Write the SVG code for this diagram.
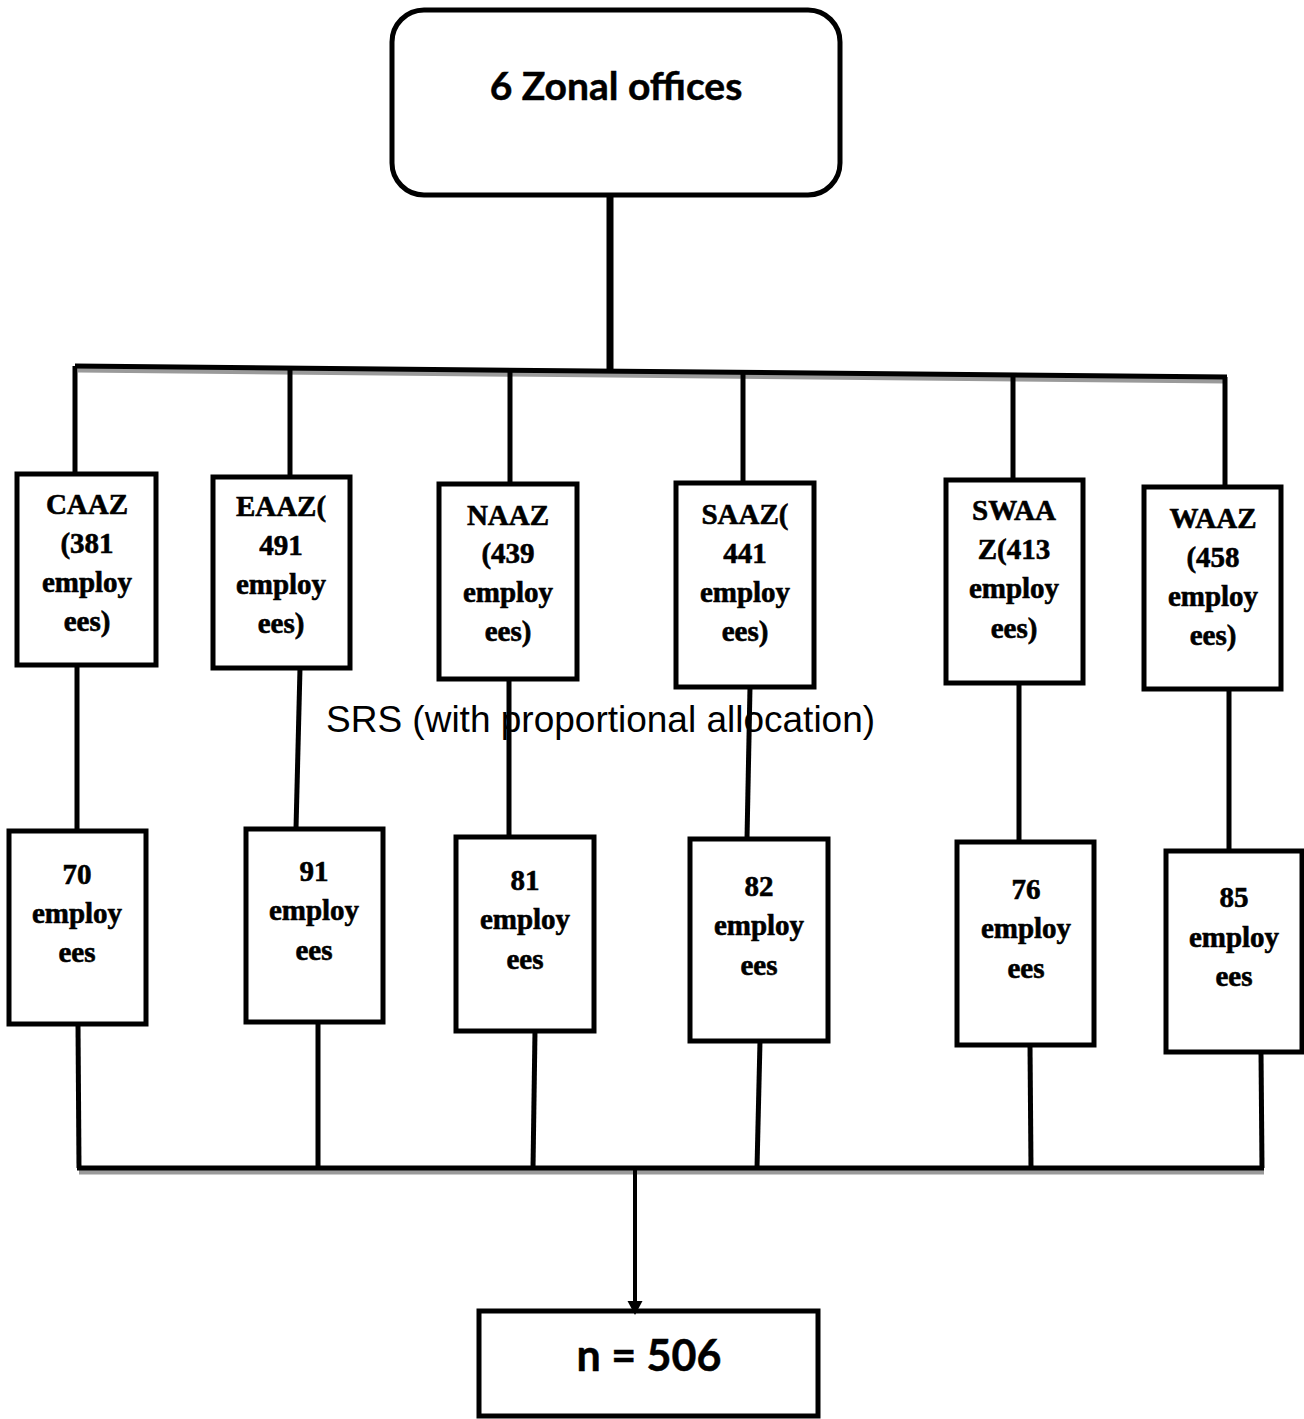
<svg xmlns="http://www.w3.org/2000/svg" width="1304" height="1419" viewBox="0 0 1304 1419">
<style>
.box{fill:#fff;stroke:#000;stroke-width:5}
.ln{stroke:#000;stroke-width:5;fill:none}
.sh{stroke:#9a9a9a;stroke-width:5;fill:none}
.t{font-family:"Liberation Serif","Times New Roman",serif;font-weight:bold;font-size:29px;text-anchor:middle;fill:#000;stroke:#000;stroke-width:0.6}
.c{font-family:Lato,"Open Sans",sans-serif;font-weight:bold;text-anchor:middle;fill:#000;stroke:#000;stroke-width:0.5}
.srs{font-family:"Liberation Sans",Arial,sans-serif;font-size:37px;fill:#000}
.head{fill:#000;stroke:none}
</style>
<g id="result">
<rect class="box" x="479" y="1311" width="339" height="105"/>
<text class="c" x="649" y="1371" font-size="43">n = 506</text>
</g>
<g id="connectors">
<line class="ln" x1="610" y1="195" x2="610" y2="370" style="stroke-width:7"/>
<line class="sh" x1="78" y1="370" x2="1225" y2="381"/>
<line class="ln" x1="75" y1="366" x2="1227" y2="377"/>
<line class="ln" x1="75" y1="366" x2="75" y2="475"/>
<line class="ln" x1="290" y1="368" x2="290" y2="478"/>
<line class="ln" x1="510" y1="370" x2="510" y2="484"/>
<line class="ln" x1="743" y1="372" x2="743" y2="484"/>
<line class="ln" x1="1013" y1="375" x2="1013" y2="480"/>
<line class="ln" x1="1225" y1="377" x2="1225" y2="488"/>
<line class="ln" x1="77" y1="665" x2="77" y2="831"/>
<line class="ln" x1="300" y1="668" x2="296" y2="829"/>
<line class="ln" x1="509" y1="679" x2="509" y2="837"/>
<line class="ln" x1="750" y1="687" x2="747" y2="839"/>
<line class="ln" x1="1019" y1="683" x2="1019" y2="842"/>
<line class="ln" x1="1229" y1="689" x2="1229" y2="851"/>
<line class="ln" x1="78" y1="1024" x2="79" y2="1168"/>
<line class="ln" x1="318" y1="1022" x2="318" y2="1168"/>
<line class="ln" x1="535" y1="1031" x2="533" y2="1168"/>
<line class="ln" x1="760" y1="1041" x2="757" y2="1168"/>
<line class="ln" x1="1030" y1="1045" x2="1031" y2="1168"/>
<line class="ln" x1="1261" y1="1052" x2="1262" y2="1168"/>
<line class="sh" x1="79" y1="1172" x2="1264" y2="1172"/>
<line class="ln" x1="77" y1="1168" x2="1264" y2="1168"/>
<line class="ln" x1="635" y1="1168" x2="635" y2="1303" style="stroke-width:4"/>
<polygon class="head" points="627.5,1301 642.5,1301 635,1315"/>
</g>
<g id="top">
<rect class="box" x="392" y="10" width="448" height="185" rx="32"/>
<text class="c" x="616" y="100" font-size="39">6 Zonal offices</text>
</g>
<g id="caaz">
<rect class="box" x="17" y="474" width="139" height="191"/>
<text class="t" x="87"><tspan x="87" y="514">CAAZ</tspan><tspan x="87" y="553">(381</tspan><tspan x="87" y="592">employ</tspan><tspan x="87" y="631">ees)</tspan></text>
</g>
<g id="eaaz">
<rect class="box" x="213" y="477" width="137" height="191"/>
<text class="t" x="281"><tspan x="281" y="516">EAAZ(</tspan><tspan x="281" y="555">491</tspan><tspan x="281" y="594">employ</tspan><tspan x="281" y="633">ees)</tspan></text>
</g>
<g id="naaz">
<rect class="box" x="439" y="484" width="138" height="195"/>
<text class="t" x="508"><tspan x="508" y="525">NAAZ</tspan><tspan x="508" y="563">(439</tspan><tspan x="508" y="602">employ</tspan><tspan x="508" y="641">ees)</tspan></text>
</g>
<g id="saaz">
<rect class="box" x="676" y="483" width="138" height="204"/>
<text class="t" x="745"><tspan x="745" y="524">SAAZ(</tspan><tspan x="745" y="563">441</tspan><tspan x="745" y="602">employ</tspan><tspan x="745" y="641">ees)</tspan></text>
</g>
<g id="swaaz">
<rect class="box" x="946" y="480" width="137" height="203"/>
<text class="t" x="1014"><tspan x="1014" y="520">SWAA</tspan><tspan x="1014" y="559">Z(413</tspan><tspan x="1014" y="598">employ</tspan><tspan x="1014" y="638">ees)</tspan></text>
</g>
<g id="waaz">
<rect class="box" x="1144" y="487" width="137" height="202"/>
<text class="t" x="1213"><tspan x="1213" y="528">WAAZ</tspan><tspan x="1213" y="567">(458</tspan><tspan x="1213" y="606">employ</tspan><tspan x="1213" y="645">ees)</tspan></text>
</g>
<g id="s70">
<rect class="box" x="9" y="831" width="137" height="193"/>
<text class="t" x="77"><tspan x="77" y="884">70</tspan><tspan x="77" y="923">employ</tspan><tspan x="77" y="962">ees</tspan></text>
</g>
<g id="s91">
<rect class="box" x="246" y="829" width="137" height="193"/>
<text class="t" x="314"><tspan x="314" y="881">91</tspan><tspan x="314" y="920">employ</tspan><tspan x="314" y="960">ees</tspan></text>
</g>
<g id="s81">
<rect class="box" x="456" y="837" width="138" height="194"/>
<text class="t" x="525"><tspan x="525" y="890">81</tspan><tspan x="525" y="929">employ</tspan><tspan x="525" y="969">ees</tspan></text>
</g>
<g id="s82">
<rect class="box" x="690" y="839" width="138" height="202"/>
<text class="t" x="759"><tspan x="759" y="896">82</tspan><tspan x="759" y="935">employ</tspan><tspan x="759" y="975">ees</tspan></text>
</g>
<g id="s76">
<rect class="box" x="957" y="842" width="137" height="203"/>
<text class="t" x="1026"><tspan x="1026" y="899">76</tspan><tspan x="1026" y="938">employ</tspan><tspan x="1026" y="978">ees</tspan></text>
</g>
<g id="s85">
<rect class="box" x="1166" y="851" width="136" height="201"/>
<text class="t" x="1234"><tspan x="1234" y="907">85</tspan><tspan x="1234" y="947">employ</tspan><tspan x="1234" y="986">ees</tspan></text>
</g>
<text class="srs" x="326" y="732">SRS (with proportional allocation)</text>
</svg>
